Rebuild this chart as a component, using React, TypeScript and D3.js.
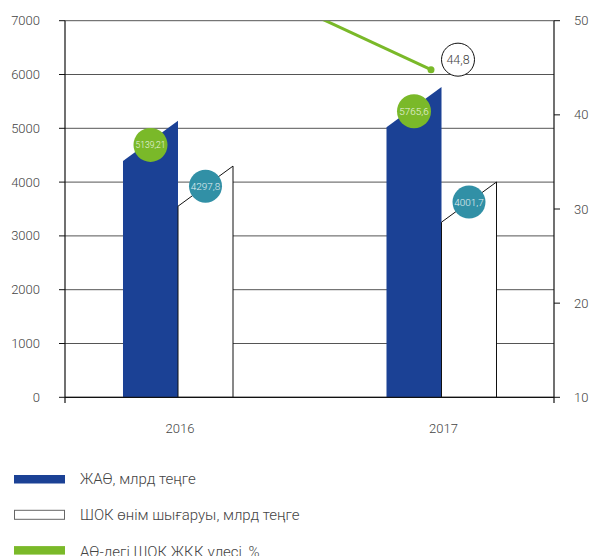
import React from 'react';
import * as d3 from 'd3';

const categories = ['2016', '2017'];
const zhaoValues = [5139.21, 5765.6];
const shokValues = [4297.8, 4001.7];
const shareValues = [57.8, 44.8];
const zhaoLabels = ['5139,21', '5765,6'];
const shokLabels = ['4297,8', '4001,7'];
const shareLabels = ['', '44,8'];
const leftTicks = [0, 1000, 2000, 3000, 4000, 5000, 6000, 7000];
const rightTicks = [10, 20, 30, 40, 50];
const legendLabels = ['ЖАӨ, млрд теңге', 'ШОК өнім шығаруы, млрд теңге', 'АӨ-дегі ШОК ЖҚҚ үлесі, %'];

const W = 592;
const H = 556;
const plotLeft = 65;
const plotRight = 554;
const plotTop = 20.7;
const plotBottom = 397.3;
const BLUE = '#1b4195';
const TEAL = '#3190a6';
const GREEN = '#7ab929';
const TEXT = '#444';
const FONT = 'Roboto, "Noto Sans", sans-serif';

export default function App() {
  const yL = d3.scaleLinear().domain([0, 7000]).range([plotBottom, plotTop]);
  const yR = d3.scaleLinear().domain([10, 50]).range([plotBottom, plotTop]);
  const x = d3
    .scaleBand<string>()
    .domain(categories)
    .range([46.25, 573.25])
    .paddingInner(0.5825)
    .paddingOuter(0.29125);
  const xs = d3.scaleBand<string>().domain(['zhao', 'shok']).range([0, x.bandwidth()]);
  const bw = xs.bandwidth();
  const slant = bw * 0.73;
  const xLine = (c: string) => (x(c) as number) + x.bandwidth() / 2 - 10.5;

  const barPath = (x0: number, x1: number, yTop: number) =>
    `M${x0},${plotBottom} L${x0},${Math.min(plotBottom, yTop + slant)} L${x1},${yTop} L${x1},${plotBottom} Z`;

  const line = d3
    .line<number>()
    .x((_, i) => xLine(categories[i]))
    .y((d) => yR(d));

  const labelSize = (s: string) => Math.min(10, 31 / (s.length * 0.52));

  return (
    <svg
      width={W}
      height={H}
      style={{ position: 'absolute', left: 0, top: 0, background: '#fff' }}
      fontFamily={FONT}
    >
      <defs>
        <clipPath id="plotclip">
          <rect x={plotLeft} y={plotTop} width={plotRight - plotLeft} height={plotBottom - plotTop} />
        </clipPath>
      </defs>
      {/* gridlines */}
      {leftTicks.map((t) => (
        <line key={'g' + t} x1={plotLeft} x2={plotRight} y1={yL(t)} y2={yL(t)} stroke="#555" strokeWidth={1} />
      ))}
      {/* bars */}
      {categories.map((c, i) => {
        const gx = x(c) as number;
        const bx0 = gx + (xs('zhao') as number);
        const wx0 = gx + (xs('shok') as number);
        return (
          <g key={'b' + c}>
            <path d={barPath(bx0, bx0 + bw, yL(zhaoValues[i]))} fill={BLUE} />
            <path
              d={barPath(wx0, wx0 + bw, yL(shokValues[i]))}
              fill="#fff"
              stroke="#111"
              strokeWidth={1}
            />
          </g>
        );
      })}
      {/* axes */}
      <line x1={plotLeft} x2={plotLeft} y1={plotTop} y2={403} stroke="#111" strokeWidth={1.2} />
      <line x1={plotRight} x2={plotRight} y1={plotTop} y2={403} stroke="#111" strokeWidth={1.2} />
      <line x1={plotLeft} x2={plotRight} y1={plotBottom} y2={plotBottom} stroke="#111" strokeWidth={1.2} />
      {leftTicks.map((t) => (
        <g key={'lt' + t}>
          <line x1={59} x2={plotLeft} y1={yL(t)} y2={yL(t)} stroke="#111" strokeWidth={1} />
          <text x={40} y={yL(t)} dy="0.35em" textAnchor="end" fontSize={13} fill={TEXT} fontWeight={300}>
            {t}
          </text>
        </g>
      ))}
      {rightTicks.map((t) => (
        <g key={'rt' + t}>
          <line x1={plotRight} x2={560} y1={yR(t)} y2={yR(t)} stroke="#111" strokeWidth={1} />
          <text x={574} y={yR(t)} dy="0.35em" textAnchor="start" fontSize={13} fill={TEXT} fontWeight={300}>
            {t}
          </text>
        </g>
      ))}
      {categories.map((c) => (
        <text
          key={'c' + c}
          x={(x(c) as number) + x.bandwidth() / 2 + 2}
          y={433}
          textAnchor="middle"
          fontSize={13}
          fill={TEXT}
          fontWeight={300}
        >
          {c}
        </text>
      ))}
      {/* share line */}
      <g clipPath="url(#plotclip)">
        <path d={line(shareValues) || ''} fill="none" stroke={GREEN} strokeWidth={3} />
      </g>
      {shareValues.map((v, i) =>
        yR(v) >= plotTop ? (
          <circle key={'d' + i} cx={xLine(categories[i])} cy={yR(v)} r={3.5} fill={GREEN} />
        ) : null
      )}
      {shareValues.map((v, i) =>
        shareLabels[i] && yR(v) >= plotTop ? (
          <g key={'sl' + i}>
            <circle cx={xLine(categories[i]) + 27} cy={yR(v) - 10} r={16.5} fill="#fff" stroke="#111" strokeWidth={1} />
            <text
              x={xLine(categories[i]) + 27}
              y={yR(v) - 10}
              dy="0.35em"
              textAnchor="middle"
              fontSize={12.5}
              fill={TEXT}
              fontWeight={300}
            >
              {shareLabels[i]}
            </text>
          </g>
        ) : null
      )}
      {/* bar labels */}
      {categories.map((c, i) => {
        const gx = x(c) as number;
        const bcx = gx + (xs('zhao') as number) + bw / 2;
        const wcx = gx + (xs('shok') as number) + bw / 2;
        const by = yL(zhaoValues[i]) + slant / 2 + 4;
        const wy = yL(shokValues[i]) + slant / 2;
        return (
          <g key={'l' + c}>
            <circle cx={bcx} cy={by} r={17} fill={GREEN} />
            <text
              x={bcx}
              y={by}
              dy="0.35em"
              textAnchor="middle"
              fontSize={labelSize(zhaoLabels[i])}
              fill="#eef6e0"
              fontWeight={300}
            >
              {zhaoLabels[i]}
            </text>
            <circle cx={wcx} cy={wy} r={16.5} fill={TEAL} />
            <text
              x={wcx}
              y={wy}
              dy="0.35em"
              textAnchor="middle"
              fontSize={labelSize(shokLabels[i])}
              fill="#e4f1f4"
              fontWeight={300}
            >
              {shokLabels[i]}
            </text>
          </g>
        );
      })}
      {/* legend */}
      {legendLabels.map((l, i) => {
        const yb = 484 + i * 36.3;
        return (
          <g key={'lg' + i}>
            {i === 0 && <rect x={14} y={yb - 9} width={51} height={8.5} fill={BLUE} />}
            {i === 1 && (
              <rect x={14.5} y={yb - 10} width={50} height={9} fill="#fff" stroke="#666" strokeWidth={1} />
            )}
            {i === 2 && <rect x={14} y={yb - 10.5} width={51} height={8.5} fill={GREEN} />}
            <text x={80} y={yb} fontSize={15} fill={TEXT} fontWeight={300}>
              {l}
            </text>
          </g>
        );
      })}
    </svg>
  );
}
